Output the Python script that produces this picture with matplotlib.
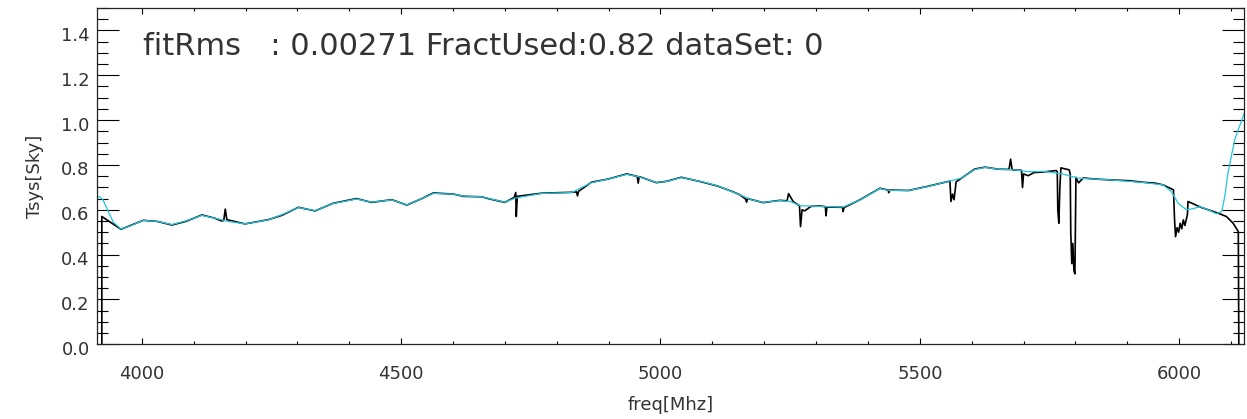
import numpy as np
import matplotlib
import matplotlib.pyplot as plt
import matplotlib.transforms as mtransforms
from matplotlib.ticker import MultipleLocator, FormatStrFormatter

matplotlib.use("Agg")

dataFreq = [
    3923, 3923, 3960, 4003, 4030, 4058, 4085, 4116, 4140, 4154, 4158, 4161, 4164,
    4199, 4244, 4270, 4302, 4334, 4369, 4414, 4443, 4482, 4511, 4540, 4562, 4601,
    4620, 4655, 4671, 4700, 4718, 4721, 4722, 4724, 4771, 4829, 4838, 4840, 4842,
    4867, 4899, 4935, 4955, 4957, 4959, 4992, 5012, 5040, 5078, 5110, 5140, 5153,
    5164, 5166, 5168, 5198, 5230, 5244, 5247, 5256, 5268, 5270, 5273, 5278, 5290,
    5306, 5318, 5319, 5321, 5351, 5352, 5354, 5385, 5423, 5439, 5440, 5442, 5478,
    5516, 5558, 5560, 5563, 5566, 5570, 5581, 5606, 5626, 5651, 5672, 5675, 5678,
    5696, 5698, 5700, 5709, 5720, 5735, 5763, 5765, 5766, 5768, 5770, 5772, 5788,
    5790, 5791, 5793, 5795, 5797, 5799, 5801, 5806, 5815, 5838, 5870, 5902, 5934,
    5953, 5969, 5989, 5991, 5993, 5996, 5999, 6002, 6005, 6008, 6011, 6014, 6016,
    6017, 6042, 6075, 6091, 6104, 6114, 6115,
]
dataTsys = [
    0.000, 0.570, 0.513, 0.553, 0.548, 0.532, 0.548, 0.577, 0.563, 0.550, 0.552, 0.603, 0.556,
    0.537, 0.556, 0.575, 0.611, 0.595, 0.629, 0.650, 0.633, 0.645, 0.621, 0.650, 0.675, 0.670,
    0.660, 0.658, 0.648, 0.633, 0.655, 0.677, 0.570, 0.660, 0.674, 0.678, 0.680, 0.662, 0.682,
    0.723, 0.737, 0.760, 0.749, 0.719, 0.748, 0.721, 0.727, 0.745, 0.725, 0.706, 0.680, 0.667,
    0.648, 0.634, 0.650, 0.632, 0.642, 0.640, 0.672, 0.636, 0.618, 0.525, 0.600, 0.595, 0.615,
    0.617, 0.614, 0.573, 0.612, 0.611, 0.592, 0.610, 0.645, 0.696, 0.688, 0.676, 0.688, 0.686,
    0.705, 0.728, 0.637, 0.670, 0.645, 0.725, 0.742, 0.782, 0.790, 0.781, 0.780, 0.826, 0.778,
    0.776, 0.699, 0.760, 0.752, 0.766, 0.768, 0.775, 0.770, 0.600, 0.540, 0.700, 0.787, 0.778,
    0.760, 0.500, 0.360, 0.450, 0.330, 0.314, 0.745, 0.720, 0.742, 0.737, 0.733, 0.730, 0.722,
    0.719, 0.711, 0.689, 0.560, 0.480, 0.520, 0.500, 0.540, 0.515, 0.555, 0.530, 0.560, 0.580,
    0.637, 0.611, 0.585, 0.570, 0.540, 0.503, 0.000,
]

# fitted baseline (cyan)
fitFreq = [
    3913, 3918, 3925, 3935, 3945, 3960, 3980, 4003, 4030, 4058, 4085, 4116, 4140,
    4165, 4199, 4244, 4270, 4302, 4334, 4369, 4414, 4443, 4482, 4511, 4540, 4562,
    4601, 4620, 4655, 4671, 4700, 4720, 4771, 4829, 4867, 4899, 4935, 4957, 4992,
    5012, 5040, 5078, 5110, 5153, 5175, 5198, 5230, 5250, 5270, 5306, 5352, 5385,
    5423, 5439, 5478, 5516, 5561, 5581, 5606, 5626, 5651, 5683, 5709, 5741, 5775,
    5805, 5838, 5870, 5934, 5969, 5985, 5998, 6014, 6027, 6040, 6056, 6072, 6082,
    6088, 6094, 6107, 6125,
]
fitTsys = [
    0.652, 0.659, 0.645, 0.595, 0.545, 0.514, 0.530, 0.553, 0.548, 0.534, 0.550, 0.575, 0.563,
    0.549, 0.537, 0.555, 0.578, 0.610, 0.596, 0.628, 0.648, 0.634, 0.644, 0.622, 0.650, 0.673,
    0.670, 0.661, 0.658, 0.649, 0.634, 0.652, 0.673, 0.677, 0.721, 0.737, 0.758, 0.748, 0.722,
    0.726, 0.744, 0.726, 0.707, 0.667, 0.645, 0.633, 0.641, 0.637, 0.618, 0.615, 0.612, 0.644,
    0.695, 0.687, 0.686, 0.704, 0.730, 0.742, 0.780, 0.789, 0.781, 0.778, 0.770, 0.771, 0.760,
    0.741, 0.737, 0.733, 0.721, 0.711, 0.681, 0.629, 0.600, 0.605, 0.614, 0.600, 0.582, 0.592,
    0.660, 0.763, 0.912, 1.028,
]

fitRms = 0.00271
fractUsed = 0.82
dataSet = 0

plt.rcParams["font.family"] = ["DejaVu Sans"]
textColor = "#333333"

fig = plt.figure(figsize=(12.47, 4.19), dpi=100)
ax = fig.add_axes([0.0775, 0.1783, 0.9201, 0.8026])

ax.plot(dataFreq, dataTsys, color="black", lw=1.2)
ax.plot(fitFreq, fitTsys, color="#22c5dd", lw=0.9)

ax.set_xlim(3913, 6125)
ax.set_ylim(0.0, 1.5)

ax.xaxis.set_major_locator(MultipleLocator(500))
ax.xaxis.set_minor_locator(MultipleLocator(100))
ax.yaxis.set_major_locator(MultipleLocator(0.2))
ax.yaxis.set_minor_locator(MultipleLocator(0.05))
ax.yaxis.set_major_formatter(FormatStrFormatter("%.1f"))

# IDL style: inward ticks on all four sides
ax.tick_params(axis="x", which="both", direction="in", top=True, bottom=True,
               labelsize=13, labelcolor=textColor, pad=15)
ax.tick_params(axis="x", which="major", length=4.3, width=0.8)
ax.tick_params(axis="x", which="minor", length=2.4, width=0.8)
ax.tick_params(axis="y", which="both", direction="in", left=True, right=True,
               labelsize=13, labelcolor=textColor, pad=5)
ax.tick_params(axis="y", which="major", length=16, width=0.8)
ax.tick_params(axis="y", which="minor", length=8, width=0.8)

# IDL puts the y labels a little below their ticks
offset = mtransforms.ScaledTranslation(0, -2.5 / 72, fig.dpi_scale_trans)
for lbl in ax.get_yticklabels():
    lbl.set_transform(lbl.get_transform() + offset)

for sp in ax.spines.values():
    sp.set_color("#222222")
    sp.set_linewidth(0.9)

ax.set_xlabel("freq[Mhz]", fontsize=13, color=textColor, labelpad=9)
ax.set_ylabel("Tsys[Sky]", fontsize=13, color=textColor, labelpad=12)

ax.text(4002, 1.29, f"fitRms   : {fitRms:.5f} FractUsed:{fractUsed:.2f} dataSet: {dataSet}",
        fontsize=22, color=textColor, ha="left", va="baseline")

plt.savefig("out.png", dpi=100, facecolor="white")
plt.close()
